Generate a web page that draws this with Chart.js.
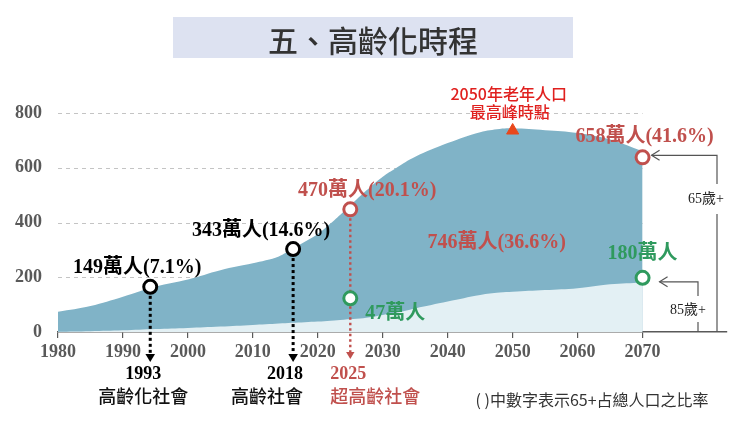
<!DOCTYPE html>
<html lang="zh-Hant">
<head>
<meta charset="utf-8">
<title>五、高齡化時程</title>
<script src="https://cdn.jsdelivr.net/npm/chart.js@4.4.1/dist/chart.umd.min.js"></script>
<style>
html, body { margin: 0; padding: 0; background: #fff; }
#wrap { position: relative; width: 740px; height: 433px; }
#title {
    position: absolute; left: 173px; top: 17px; width: 400px; height: 41px;
    background: #dde2f1; color: #333; text-align: center; line-height: 41px;
    font: 500 30px 'Noto Sans CJK TC', sans-serif; z-index: 2;
}
#chart { position: absolute; left: 0; top: 0; }
</style>
</head>
<body>
<div id="wrap">
    <div id="title">五、高齡化時程</div>
    <canvas id="chart"></canvas>
</div>
<script>
// population in 10k persons (萬人)
var years = [1980, 1985, 1990, 1995, 2000, 2005, 2010, 2012, 2014, 2016, 2018, 2020, 2022, 2024, 2026, 2028, 2030, 2032, 2035, 2040, 2045, 2048, 2050, 2055, 2060, 2065, 2070];
var pop65 = [74, 95, 129, 166, 192, 226, 251, 262, 276, 303, 330, 358, 397, 440, 485, 528, 567, 598, 640, 690, 730, 742, 744, 737, 727, 703, 660];
var pop85 = [1, 3, 6, 11, 15, 20, 26, 28, 31, 34, 36, 38, 41, 45, 48, 54, 62, 70, 86, 111, 135, 144, 147, 153, 160, 174, 181];

var xTicks = [1980, 1990, 2000, 2010, 2020, 2030, 2040, 2050, 2060, 2070];
var yTicks = [0, 200, 400, 600, 800];

// milestone markers
var blackYears = [1994.2, 2016.2];
var blackValues = [165, 303];
var blackLabels = ['149萬人(7.1%)', '343萬人(14.6%)'];
var redYears = [2025, 2070];
var redValues = [448, 638];
var redLabels = ['470萬人(20.1%)', '658萬人(41.6%)'];
var greenYears = [2025, 2070];
var greenValues = [123, 198];
var greenLabels = ['47萬人', '180萬人'];
var peakYear = 2050;
var peakValue = 744;
var peakLabel = '746萬人(36.6%)';
var peakNote = ['2050年老年人口', '最高峰時點'];
var milestoneYears = ['1993', '2018', '2025'];
var milestoneNames = ['高齡化社會', '高齡社會', '超高齡社會'];

var serif = "'Liberation Serif', 'Noto Sans CJK TC', serif";
var sans = "'Noto Sans CJK TC', 'Noto Sans', sans-serif";
var red = '#c0504d';
var green = '#2f9a5e';
var axisGrey = '#595959';

var toPoints = function (xs, ys) {
    return xs.map(function (v, i) { return { x: v, y: ys[i] }; });
};

var drawText = function (ctx, text, x, y, font, color) {
    ctx.font = font;
    ctx.fillStyle = color;
    ctx.textAlign = 'center';
    ctx.textBaseline = 'middle';
    ctx.fillText(text, x, y);
};

var dottedArrow = function (ctx, x, y0, tip, color, width, dash, head) {
    ctx.save();
    ctx.strokeStyle = color;
    ctx.fillStyle = color;
    ctx.lineWidth = width;
    ctx.setLineDash(dash);
    ctx.beginPath();
    ctx.moveTo(x, y0);
    ctx.lineTo(x, tip - head);
    ctx.stroke();
    ctx.setLineDash([]);
    ctx.beginPath();
    ctx.moveTo(x - head * 0.6, tip - head);
    ctx.lineTo(x + head * 0.6, tip - head);
    ctx.lineTo(x, tip);
    ctx.closePath();
    ctx.fill();
    ctx.restore();
};

var openArrow = function (ctx, tipX, tipY) {
    ctx.beginPath();
    ctx.moveTo(tipX + 8, tipY - 5);
    ctx.lineTo(tipX, tipY);
    ctx.lineTo(tipX + 8, tipY + 5);
    ctx.stroke();
};

var annotations = {
    id: 'annotations',
    beforeDatasetsDraw: function (chart) {
        var ctx = chart.ctx, xs = chart.scales.x, ys = chart.scales.y;
        ctx.save();
        ctx.strokeStyle = '#c4c4c4';
        ctx.lineWidth = 1;
        ctx.setLineDash([4, 4]);
        yTicks.forEach(function (v) {
            if (v === 0) return;
            var py = Math.round(ys.getPixelForValue(v)) + 0.5;
            ctx.beginPath();
            ctx.moveTo(xs.getPixelForValue(years[0]), py);
            ctx.lineTo(xs.getPixelForValue(years[years.length - 1]), py);
            ctx.stroke();
        });
        ctx.restore();
    },
    // arrows go over the areas but under the circle markers
    afterDatasetDraw: function (chart, args) {
        if (args.index !== 4) return;
        var ctx = chart.ctx, xs = chart.scales.x, ys = chart.scales.y;
        blackYears.forEach(function (yr, i) {
            dottedArrow(ctx, xs.getPixelForValue(yr), ys.getPixelForValue(blackValues[i]) + 9, 362, '#000', 3, [3, 3], 8);
        });
        dottedArrow(ctx, xs.getPixelForValue(redYears[0]), ys.getPixelForValue(redValues[0]) + 9, 359, red, 2.4, [2.5, 3], 7);
    },
    afterDatasetsDraw: function (chart) {
        var ctx = chart.ctx, xs = chart.scales.x, ys = chart.scales.y;
        var bold = 'bold 20px ' + serif;
        ctx.save();

        // value labels
        var bOff = [[-13, -19], [-32, -18]];
        blackLabels.forEach(function (t, i) {
            drawText(ctx, t, xs.getPixelForValue(blackYears[i]) + bOff[i][0], ys.getPixelForValue(blackValues[i]) + bOff[i][1], bold, '#000');
        });
        var rOff = [[17, -19], [2, -21]];
        redLabels.forEach(function (t, i) {
            drawText(ctx, t, xs.getPixelForValue(redYears[i]) + rOff[i][0], ys.getPixelForValue(redValues[i]) + rOff[i][1], bold, red);
        });
        var gOff = [[45, 15], [0, -24]];
        greenLabels.forEach(function (t, i) {
            drawText(ctx, t, xs.getPixelForValue(greenYears[i]) + gOff[i][0], ys.getPixelForValue(greenValues[i]) + gOff[i][1], bold, green);
        });
        var px = xs.getPixelForValue(peakYear), py = ys.getPixelForValue(peakValue);
        drawText(ctx, peakLabel, px - 16, 243, bold, red);
        drawText(ctx, peakNote[0], px - 4, py - 34, '500 16px ' + sans, '#e0201e');
        drawText(ctx, peakNote[1], px - 3, py - 16, '500 16px ' + sans, '#e0201e');

        // milestones under the axis
        var x2025 = xs.getPixelForValue(redYears[0]);
        var yOff = [-7, -8, -2];
        var nOff = [-7, -26, 25];
        var mx = [xs.getPixelForValue(blackYears[0]), xs.getPixelForValue(blackYears[1]), x2025];
        milestoneYears.forEach(function (t, i) {
            var c = i === 2 ? red : '#000';
            drawText(ctx, t, mx[i] + yOff[i], 374, 'bold 18px ' + serif, c);
            drawText(ctx, milestoneNames[i], mx[i] + nOff[i], 396, '500 18px ' + sans, i === 2 ? red : '#111');
        });

        // 65+ / 85+ brackets
        var x70 = xs.getPixelForValue(redYears[1]);
        var right = chart.chartArea.right, bottom = chart.chartArea.bottom;
        ctx.strokeStyle = '#555';
        ctx.lineWidth = 1.2;
        var y65 = ys.getPixelForValue(redValues[1]) - 2;
        var b65 = right - 10;
        openArrow(ctx, x70 + 9, y65);
        ctx.beginPath();
        ctx.moveTo(x70 + 9, y65); ctx.lineTo(b65, y65); ctx.lineTo(b65, 184);
        ctx.moveTo(b65, 214); ctx.lineTo(b65, bottom);
        ctx.stroke();
        drawText(ctx, '65歲+', b65 - 11, 199, '14px ' + serif, '#222');

        var y85 = ys.getPixelForValue(greenValues[1]) + 4;
        var b85 = right - 29;
        openArrow(ctx, x70 + 17, y85);
        ctx.beginPath();
        ctx.moveTo(x70 + 17, y85); ctx.lineTo(b85, y85); ctx.lineTo(b85, 296);
        ctx.moveTo(b85, 322); ctx.lineTo(b85, bottom);
        ctx.stroke();
        drawText(ctx, '85歲+', b85 - 10, 310, '14px ' + serif, '#222');

        // footnote
        drawText(ctx, '( )中數字表示65+占總人口之比率', 592, 400, '16px ' + sans, '#333');
        ctx.restore();
    }
};

var markerSet = function (xs, ys, color) {
    return {
        data: toPoints(xs, ys),
        showLine: false,
        pointRadius: 6.5,
        pointBorderWidth: 3,
        pointBackgroundColor: '#fff',
        pointBorderColor: color
    };
};

var ctx = document.getElementById('chart').getContext('2d');
var agingChart = new Chart(ctx, {
    type: 'line',
    data: {
        datasets: [
            markerSet(blackYears, blackValues, '#000'),
            markerSet(redYears, redValues, red),
            markerSet(greenYears, greenValues, green),
            {
                data: [{ x: peakYear, y: peakValue - 8 }],
                showLine: false,
                pointStyle: 'triangle',
                pointRadius: 7,
                pointBackgroundColor: '#e8481c',
                pointBorderColor: '#e8481c'
            },
            {
                label: '85歲+',
                data: toPoints(years, pop85),
                fill: 'origin',
                backgroundColor: '#e3f0f4',
                borderWidth: 0,
                pointRadius: 0,
                tension: 0.4
            },
            {
                label: '65歲+',
                data: toPoints(years, pop65),
                fill: 'origin',
                backgroundColor: '#80b3c7',
                borderWidth: 0,
                pointRadius: 0,
                tension: 0.4
            }
        ]
    },
    options: {
        responsive: true,
        maintainAspectRatio: false,
        animation: false,
        layout: { padding: { top: 113, right: 13, left: 0, bottom: 0 } },
        plugins: { legend: { display: false }, tooltip: { enabled: false } },
        scales: {
            x: {
                type: 'linear',
                min: 1980,
                max: 2083,
                afterBuildTicks: function (scale) {
                    scale.ticks = xTicks.map(function (v) { return { value: v }; });
                },
                afterFit: function (scale) { scale.height = 101; },
                ticks: {
                    autoSkip: false,
                    maxRotation: 0,
                    padding: 4,
                    color: axisGrey,
                    font: { family: serif, size: 18, weight: 'bold' },
                    callback: function (value) { return String(value); }
                },
                grid: { drawOnChartArea: false, drawTicks: true, tickLength: 6, color: axisGrey, lineWidth: 1.2 },
                border: { display: true, color: axisGrey, width: 1.5 }
            },
            y: {
                min: 0,
                max: 800,
                afterBuildTicks: function (scale) {
                    scale.ticks = yTicks.map(function (v) { return { value: v }; });
                },
                afterFit: function (scale) { scale.width = 58; },
                ticks: {
                    padding: 16,
                    color: axisGrey,
                    font: { family: serif, size: 18, weight: 'bold' }
                },
                grid: { display: false, drawTicks: false },
                border: { display: false }
            }
        }
    },
    plugins: [annotations]
});
</script>
</body>
</html>
